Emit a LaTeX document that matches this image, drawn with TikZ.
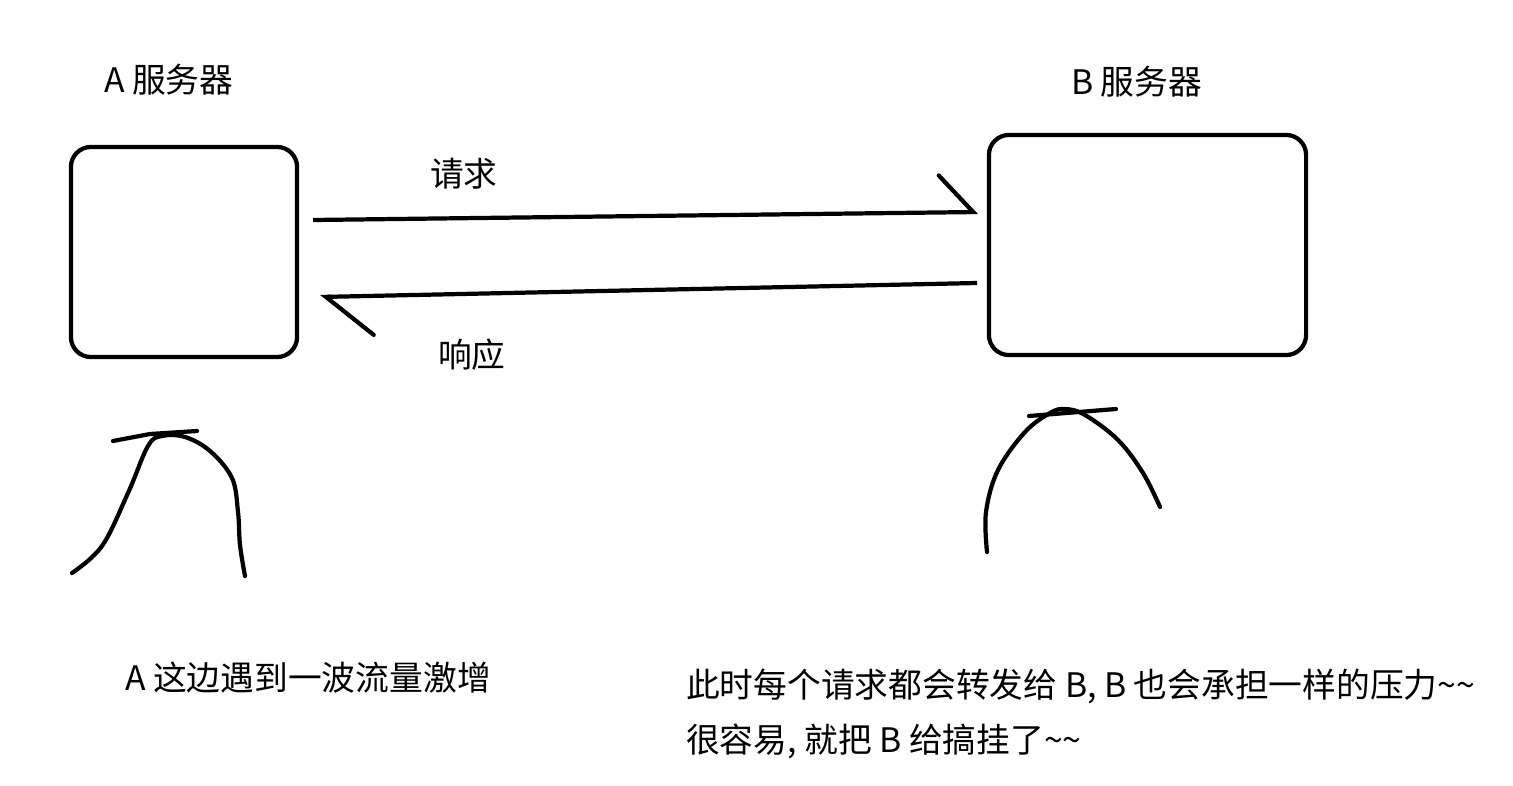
\documentclass[tikz,border=0pt]{standalone}
\usepackage{fontspec}
\usetikzlibrary{arrows.meta}
\newfontfamily\cjk{Noto Sans CJK SC}

\begin{document}
\begin{tikzpicture}[x=0.01cm, y=-0.01cm, line width=1.2pt,
    server/.style={draw, rounded corners=0.2cm, inner sep=0},
    label/.style={font=\cjk\fontsize{9.6pt}{15.6pt}\selectfont, inner sep=0, anchor=west}]
        \useasboundingbox (0,0) rectangle (1513,785);

        % Draw servers
        \node[server, minimum width=2.26cm, minimum height=2.1cm] (srvA) at (184,252) {};
        \node[server, minimum width=3.17cm, minimum height=2.2cm] (srvB) at (1147.5,245) {};
        \node[label] (nameA) at (102,80) {A 服务器};
        \node[label] (nameB) at (1069,82) {B 服务器};

        % Draw connections
        \coordinate (reqS) at (313,220);
        \coordinate (reqE) at (978,212);
        \coordinate (resS) at (977,283);
        \coordinate (resE) at (320,297);
        \draw[-{Straight Barb[left, length=0.34cm, width=0.74cm, line cap=round]}] (reqS) -- (reqE);
        \draw[-{Straight Barb[left, length=0.47cm, width=0.78cm, line cap=round]}] (resS) -- (resE);
        \node[label] (req) at (428,174) {请求};
        \node[label] (res) at (436,355) {响应};

        % Traffic curves
        \draw[line cap=round] plot[smooth, tension=0.6] coordinates {(72,573) (102,546) (128,493) (148,446) (162,436) (185,437) (210,451) (232,478) (238,512) (240,545) (245,576)};
        \draw[line cap=round] (113,441) -- (150,434) -- (197,431);
        \draw[line cap=round] plot[smooth, tension=0.6] coordinates {(987,552) (986,512) (998,470) (1025,432) (1050,413) (1065,409) (1085,415) (1118,440) (1143,473) (1160,507)};
        \draw[line cap=round] (1029,416) -- (1116,409);

        % Labels
        \node[label] (noteA) at (123,678) {A 这边遇到一波流量激增};
        \node[label, anchor=north west, align=left] (noteB) at (684,667) {此时每个请求都会转发给 B, B 也会承担一样的压力\textasciitilde\textasciitilde\\很容易, 就把 B 给搞挂了\textasciitilde\textasciitilde};
    \end{tikzpicture}
\end{document}
